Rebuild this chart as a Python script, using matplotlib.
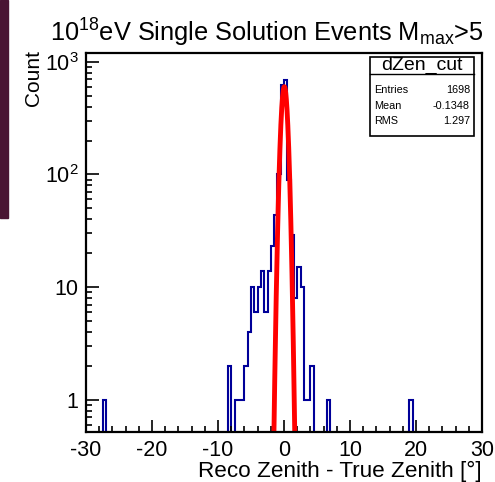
import numpy as np
import matplotlib
matplotlib.use('Agg')
import matplotlib.pyplot as plt
from matplotlib.patches import Rectangle
from matplotlib.lines import Line2D
from matplotlib.ticker import FixedLocator, LogLocator, NullFormatter, FixedFormatter

plt.rcParams['font.family'] = ['Liberation Sans', 'DejaVu Sans']
plt.rcParams['mathtext.default'] = 'regular'
plt.rcParams['axes.unicode_minus'] = False

# histogram dZen_cut: 120 bins of 0.5 deg between -30 and 30
x_min, x_max, bin_w = -30.0, 30.0, 0.5
# left edge of each filled bin and its count
bin_left = [-27.5, -8.5, -7.5, -7.0, -6.5, -6.0, -5.5, -5.0, -4.5, -4.0,
            -3.5, -3.0, -2.5, -2.0, -1.5, -1.0, -0.5, 0.0, 0.5, 1.0,
            1.5, 2.0, 2.5, 3.0, 3.5, 4.0, 6.5, 19.0]
bin_count = [1, 2, 1, 1, 1, 2, 4, 10, 6, 10,
             14, 6, 14, 23, 44, 100, 615, 685, 90, 29,
             8, 15, 10, 1, 1, 2, 1, 1]

# gaussian fit (red)
fit_const = 600.0
fit_mean = 0.05
fit_sigma = 0.42

# stats box
stat_name = "dZen_cut"
stat_labels = ["Entries", "Mean", "RMS"]
stat_values = ["1698", "-0.1348", "1.297"]

W, H = 495, 482
def fx(px):
    return px / W
def fy(py):
    return 1 - py / H

fig = plt.figure(figsize=(W / 100, H / 100), dpi=100)
ax = fig.add_axes([fx(86), fy(432.3), fx(482) - fx(86), fy(53) - fy(432.3)])

edges = np.arange(x_min, x_max + bin_w / 2, bin_w)
vals = np.full(len(edges) - 1, 1e-3)
for l, c in zip(bin_left, bin_count):
    i = int(round((l - x_min) / bin_w))
    vals[i] = c

ax.set_yscale('log')
ax.stairs(vals, edges, baseline=1e-3, color='#000099', lw=1.5)

xf = np.linspace(-3, 3, 400)
yf = fit_const * np.exp(-0.5 * ((xf - fit_mean) / fit_sigma) ** 2)
ax.plot(xf, yf, color='#ff0000', lw=3.5, solid_capstyle='butt')

ax.set_xlim(x_min, x_max)
ax.set_ylim(0.517, 1194)

ax.xaxis.set_major_locator(FixedLocator([-30, -20, -10, 0, 10, 20, 30]))
ax.xaxis.set_minor_locator(FixedLocator(np.arange(-30, 31, 2)))
ax.yaxis.set_major_locator(FixedLocator([1, 10, 100, 1000]))
ax.yaxis.set_major_formatter(FixedFormatter(['1', '10', '10$^{2}$', '10$^{3}$']))
ax.yaxis.set_minor_locator(LogLocator(base=10, subs=np.arange(2, 10)))
ax.yaxis.set_minor_formatter(NullFormatter())

ax.tick_params(which='both', direction='in', top=False, right=False,
               labelsize=15.5, width=1.2, color='black')
ax.tick_params(which='major', length=9, pad=5.5)
ax.tick_params(which='minor', length=4.5)
for s in ax.spines.values():
    s.set_linewidth(1.6)

fig.text(fx(482), fy(477), "Reco Zenith - True Zenith [°]", ha='right',
         va='baseline', fontsize=16.2)
fig.text(fx(43), fy(50), "Count", rotation=90, ha='right', va='top', fontsize=15)
fig.text(fx(50), fy(42), "10$^{18}$eV Single Solution Events M$_{max}$>5",
         ha='left', va='baseline', fontsize=18.3)

# maroon strip at left edge
fig.patches.append(Rectangle((0, fy(218)), fx(8), 218 / H,
                             transform=fig.transFigure, color='#4a1433', zorder=0))

# stats box
bx0, bx1, by0, by1 = 370, 474, 57, 136
fig.patches.append(Rectangle((fx(bx0), fy(by1)), fx(bx1) - fx(bx0), fy(by0) - fy(by1),
                             transform=fig.transFigure, facecolor='white',
                             edgecolor='black', lw=1.2, zorder=5))
fig.lines.append(Line2D([fx(bx0), fx(bx1)], [fy(73.5), fy(73.5)],
                        transform=fig.transFigure, color='black', lw=1.0, zorder=6))
fig.text(fx((bx0 + bx1) / 2), fy(65.5), stat_name, ha='center', va='center',
         fontsize=14, zorder=7)
row_y = [90, 106, 121.5]
for lab, val, yy in zip(stat_labels, stat_values, row_y):
    fig.text(fx(374), fy(yy), lab, ha='left', va='center', fontsize=7.8, zorder=7)
    fig.text(fx(470), fy(yy), val, ha='right', va='center', fontsize=7.8, zorder=7)

fig.savefig('out.png', dpi=100)
